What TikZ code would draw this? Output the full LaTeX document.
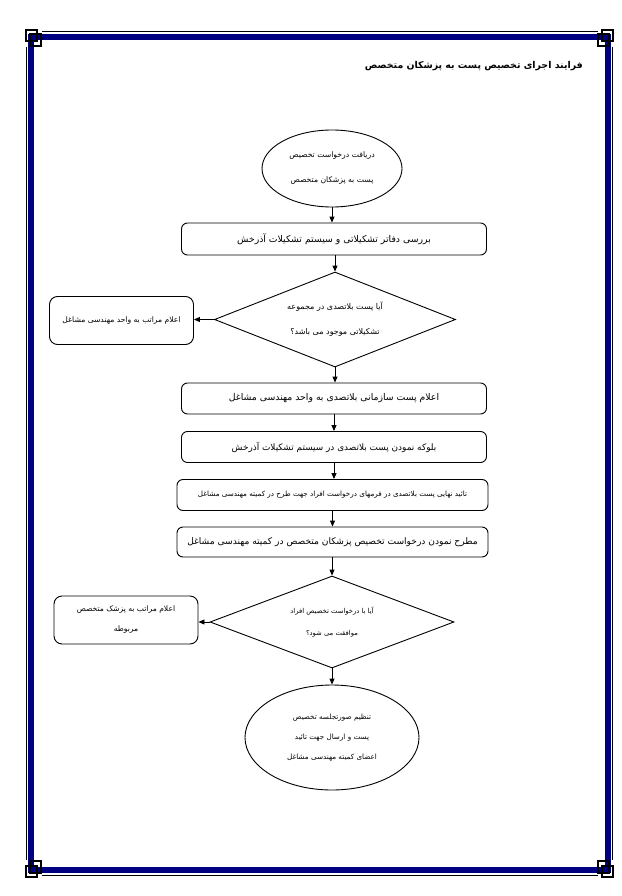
\documentclass[tikz,border=0pt]{standalone}
\usepackage{fontspec}
\usetikzlibrary{shapes.geometric,arrows.meta}
\newfontfamily\arabicfont[Script=Arabic]{DejaVu Sans}
\TeXXeTstate=1
\definecolor{bordernavy}{RGB}{0,0,128}
\newcommand{\rtltext}[1]{\beginR #1\endR}
\tikzset{
  procbox/.style={draw, rounded corners=6pt, minimum width=305pt, minimum height=32pt, inner sep=2pt, align=center, line width=0.9pt},
  sidebox/.style={draw, rounded corners=8pt, minimum width=144pt, minimum height=48pt, inner sep=2pt, align=center, line width=0.9pt},
  decision/.style={draw, diamond, shape aspect=2.5, inner sep=0pt, align=center, line width=0.9pt},
  terminal/.style={draw, ellipse, inner sep=0pt, align=center, line width=0.9pt},
  arr/.style={-{Triangle[length=6pt,width=5pt]}, line width=0.9pt},
  cornersq/.style={draw=black, line width=1.1pt}
}
\begin{document}
\begin{tikzpicture}[x=1pt,y=-1pt]
\useasboundingbox (0,0) rectangle (621,896);
\fill[white] (0,0) rectangle (621,896);
% page border
\draw[bordernavy, line width=6pt] (31,37) rectangle (608,870);
\draw[black, line width=1.1pt] (42,31.5) -- (598,31.5);
\draw[black, line width=1.1pt] (42,875.5) -- (598,875.5);
\draw[black, line width=1.1pt] (26.5,47) -- (26.5,860);
\draw[black, line width=1.1pt] (612.5,47) -- (612.5,860);
\draw[cornersq] (26,30) rectangle (37,41);
\draw[cornersq] (30,34) rectangle (41,46);
\draw[cornersq] (613,30) rectangle (602,41);
\draw[cornersq] (609,34) rectangle (598,46);
\draw[cornersq] (26,877) rectangle (37,866);
\draw[cornersq] (30,873) rectangle (41,861);
\draw[cornersq] (613,877) rectangle (602,866);
\draw[cornersq] (609,873) rectangle (598,861);
% title
\node[anchor=east, inner sep=0pt, font={\arabicfont\bfseries\fontsize{9.4}{12}\selectfont}] (title) at (583,66) {\rtltext{فرایند اجرای تخصیص پست به پزشکان متخصص}};
% flow
\node[terminal, minimum width=140pt, minimum height=77pt, font=\arabicfont\fontsize{7.7}{25}\selectfont] (e1) at (332,168.5)
  {\rtltext{دریافت درخواست تخصیص}\\\rtltext{پست به پزشکان متخصص}};
\node[procbox, font=\arabicfont\fontsize{9.3}{11}\selectfont] (b1) at (334,239) {\rtltext{بررسی دفاتر تشکیلاتی و سیستم تشکیلات آذرخش}};
\node[decision, minimum width=241pt, minimum height=95pt, font=\arabicfont\fontsize{8}{25}\selectfont] (d1) at (335,319.5)
  {\rtltext{آیا پست بلاتصدی در مجموعه}\\\rtltext{تشکیلاتی موجود می باشد؟}};
\node[sidebox, font=\arabicfont\fontsize{7.6}{9}\selectfont] (s1) at (121.5,320.5) {\rtltext{اعلام مراتب به واحد مهندسی مشاغل}};
\node[procbox, minimum height=31pt, font=\arabicfont\fontsize{9.3}{11}\selectfont] (b2) at (334,398.5) {\rtltext{اعلام پست سازمانی بلاتصدی به واحد مهندسی مشاغل}};
\node[procbox, minimum height=31pt, font=\arabicfont\fontsize{8.9}{11}\selectfont] (b3) at (334,447) {\rtltext{بلوکه نمودن پست بلاتصدی در سیستم تشکیلات آذرخش}};
\node[procbox, minimum width=311pt, minimum height=31pt, font=\arabicfont\fontsize{7.2}{9}\selectfont] (b4) at (332.5,495) {\rtltext{تائید نهایی پست بلاتصدی در فرمهای درخواست افراد جهت طرح در کمیته مهندسی مشاغل}};
\node[procbox, minimum width=311pt, minimum height=30pt, font=\arabicfont\fontsize{9.1}{11}\selectfont] (b5) at (332.5,542) {\rtltext{مطرح نمودن درخواست تخصیص پزشکان متخصص در کمیته مهندسی مشاغل}};
\node[decision, minimum width=244pt, minimum height=92pt, font=\arabicfont\fontsize{6.8}{22}\selectfont] (d2) at (332,622)
  {\rtltext{آیا با درخواست تخصیص افراد}\\\rtltext{موافقت می شود؟}};
\node[sidebox, font=\arabicfont\fontsize{7.6}{20}\selectfont] (s2) at (126,620)
  {\rtltext{اعلام مراتب به پزشک متخصص}\\\rtltext{مربوطه}};
\node[terminal, minimum width=174pt, minimum height=105pt, font=\arabicfont\fontsize{7.2}{20}\selectfont] (e2) at (332,737.5)
  {\rtltext{تنظیم صورتجلسه تخصیص}\\\rtltext{پست و ارسال جهت تائید}\\\rtltext{اعضای کمیته مهندسی مشاغل}};
% connectors
\draw[arr] (e1.south) -- (e1.south |- b1.north);
\draw[arr] (b1.south -| d1.north) -- (d1.north);
\draw[arr] (d1.west) -- (d1.west -| s1.east);
\draw[arr] (d1.south) -- (d1.south |- b2.north);
\draw[arr] (b2.south) -- (b3.north);
\draw[arr] (b3.south) -- (b3.south |- b4.north);
\draw[arr] (b4.south) -- (b5.north);
\draw[arr] (b5.south -| d2.north) -- (d2.north);
\draw[arr] (d2.west) -- (d2.west -| s2.east);
\draw[arr] (d2.south) -- (e2.north);
\end{tikzpicture}
\end{document}
